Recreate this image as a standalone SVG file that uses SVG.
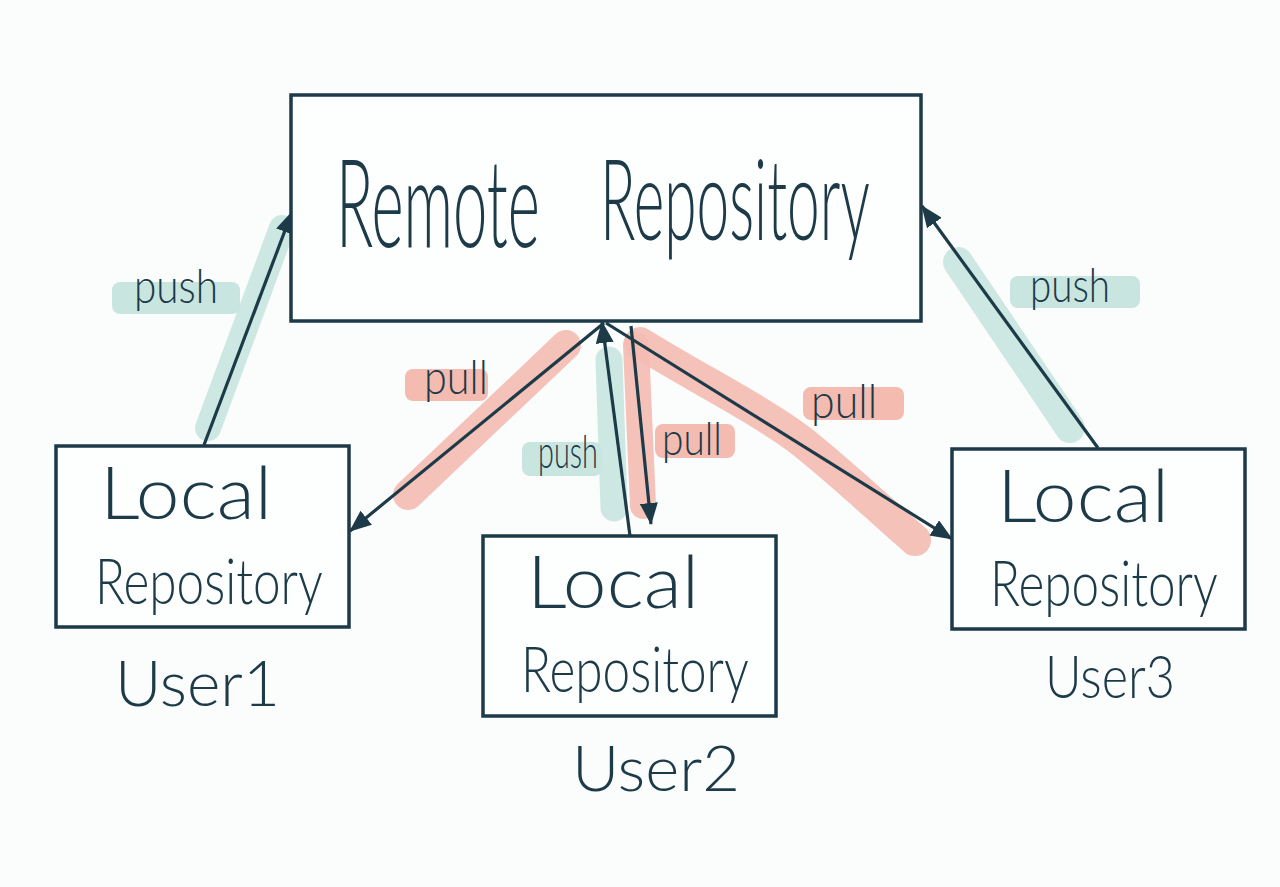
<svg xmlns="http://www.w3.org/2000/svg" width="1280" height="887" viewBox="0 0 1280 887">
<defs>
<marker id="ah" viewBox="0 0 22 18" refX="21" refY="9" markerWidth="22" markerHeight="18" markerUnits="userSpaceOnUse" orient="auto">
<path d="M0,0 L22,9 L0,18 Z" fill="#1c3a47"/>
</marker>
<style>
.box{fill:#fdfefe;stroke:#1c3a47;stroke-width:3.5}
.conn{stroke:#1c3a47;stroke-width:3.2;fill:none;marker-end:url(#ah)}
.hg{stroke:#c8e5df;stroke-linecap:round;fill:none;opacity:0.9}
.hr{stroke:#f4bbb1;stroke-linecap:round;fill:none;opacity:0.9}
.bg{fill:#c8e5df}
.br{fill:#f4bbb1}
.t{font-family:Lato,"Open Sans","Liberation Sans",sans-serif;font-weight:300;fill:#1c3a47}
</style>
</defs>
<rect width="1280" height="887" fill="#fbfcfc"/>

<g id="highlights">
<path class="hg" d="M208,428 L282,228" stroke-width="26"/>
<rect class="bg" x="112" y="282" width="128" height="32" rx="8"/>
<path class="hr" d="M408,495 L566,345" stroke-width="30"/>
<rect class="br" x="405" y="369" width="83" height="32" rx="8"/>
<path class="hg" d="M609,360 L614,508" stroke-width="27"/>
<rect class="bg" x="522" y="442" width="80" height="34" rx="8"/>
<path class="hr" d="M636,345 L643,506" stroke-width="26"/>
<rect class="br" x="655" y="424" width="80" height="34" rx="8"/>
<path class="hr" d="M640,343 C700,380 760,410 800,440 C850,480 880,510 915,540" stroke-width="32"/>
<rect class="br" x="803" y="387" width="101" height="33" rx="8"/>
<path class="hg" d="M958,262 L1070,428" stroke-width="30"/>
<rect class="bg" x="1010" y="276" width="130" height="32" rx="8"/>
</g>

<g id="connectors">
<line class="conn" x1="204" y1="445" x2="292" y2="212"/>
<line class="conn" x1="604" y1="323" x2="350" y2="531"/>
<line class="conn" x1="630" y1="536" x2="602" y2="322"/>
<line class="conn" x1="631" y1="326" x2="651" y2="524"/>
<line class="conn" x1="606" y1="323" x2="952" y2="539"/>
<line class="conn" x1="1098" y1="448" x2="922" y2="206"/>
</g>

<g id="labels">
<text class="t" transform="translate(134,303) scale(0.88,1)" font-size="48" textLength="95.5" lengthAdjust="spacingAndGlyphs">push</text>
<text class="t" transform="translate(424,394) scale(0.84,1)" font-size="48" textLength="76" lengthAdjust="spacingAndGlyphs">pull</text>
<text class="t" transform="translate(538,468) scale(0.65,1)" font-size="46" textLength="92" lengthAdjust="spacingAndGlyphs">push</text>
<text class="t" transform="translate(662,455) scale(0.82,1)" font-size="46" textLength="73" lengthAdjust="spacingAndGlyphs">pull</text>
<text class="t" transform="translate(811,418) scale(0.87,1)" font-size="48" textLength="76" lengthAdjust="spacingAndGlyphs">pull</text>
<text class="t" transform="translate(1030,302) scale(0.88,1)" font-size="48" textLength="91" lengthAdjust="spacingAndGlyphs">push</text>
</g>

<g id="remote">
<rect class="box" x="291" y="95" width="630" height="226"/>
<text class="t" transform="translate(336,247) scale(0.49,1)" font-size="122" textLength="416" lengthAdjust="spacingAndGlyphs">Remote</text>
<text class="t" transform="translate(600,240) scale(0.52,1)" font-size="112" textLength="519" lengthAdjust="spacingAndGlyphs">Repository</text>
</g>

<g id="local1">
<rect class="box" x="56" y="446" width="293" height="181"/>
<text class="t" x="100" y="519" font-size="72" textLength="172" lengthAdjust="spacingAndGlyphs">Local</text>
<text class="t" transform="translate(95,604) scale(0.77,1)" font-size="64" textLength="296" lengthAdjust="spacingAndGlyphs">Repository</text>
<text class="t" x="115" y="706" font-size="64" textLength="165" lengthAdjust="spacingAndGlyphs">User1</text>
</g>

<g id="local2">
<rect class="box" x="483" y="536" width="293" height="180"/>
<text class="t" x="527" y="608" font-size="72" textLength="172" lengthAdjust="spacingAndGlyphs">Local</text>
<text class="t" transform="translate(521,692) scale(0.77,1)" font-size="64" textLength="296" lengthAdjust="spacingAndGlyphs">Repository</text>
<text class="t" x="572" y="791" font-size="64" textLength="168" lengthAdjust="spacingAndGlyphs">User2</text>
</g>

<g id="local3">
<rect class="box" x="952" y="449" width="293" height="180"/>
<text class="t" x="997" y="522" font-size="72" textLength="172" lengthAdjust="spacingAndGlyphs">Local</text>
<text class="t" transform="translate(990,606) scale(0.77,1)" font-size="64" textLength="296" lengthAdjust="spacingAndGlyphs">Repository</text>
<text class="t" transform="translate(1045,698) scale(0.85,1)" font-size="60" textLength="153" lengthAdjust="spacingAndGlyphs">User3</text>
</g>
</svg>
